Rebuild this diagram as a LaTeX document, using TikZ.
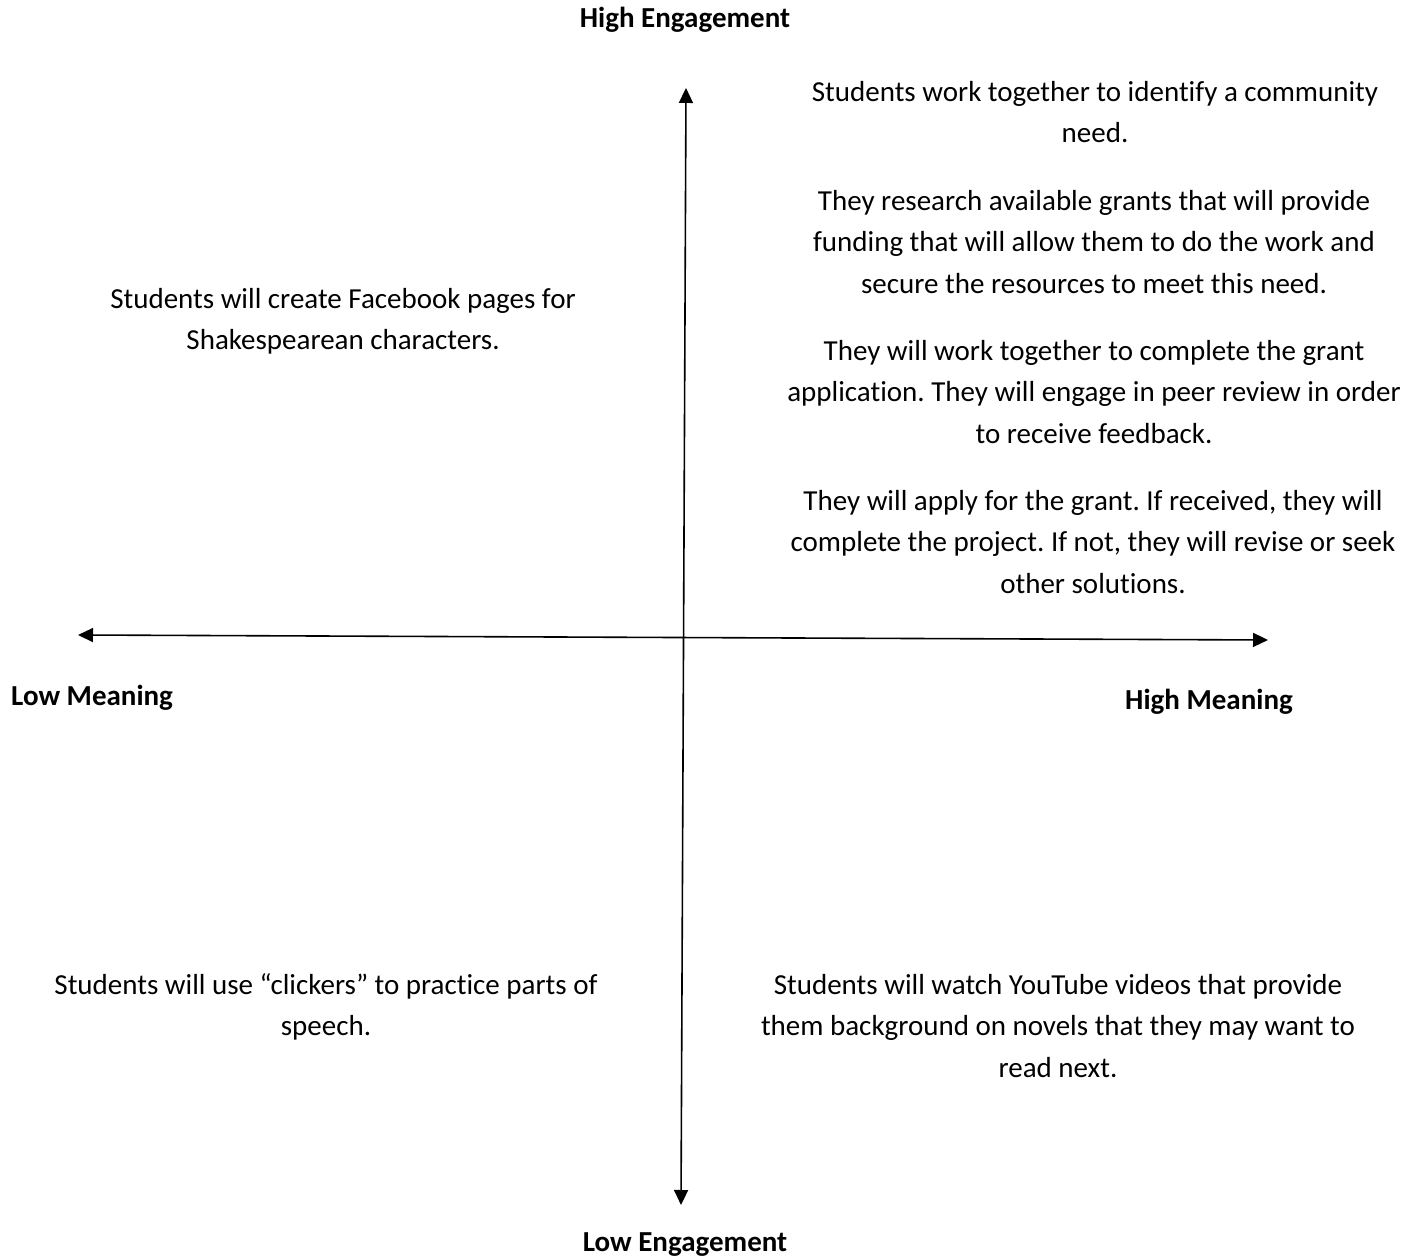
\documentclass[tikz,border=0pt]{standalone}
\usepackage{fontspec}
\setmainfont{Carlito}[Ligatures={NoCommon}]
\usetikzlibrary{arrows.meta,positioning}
\frenchspacing

\tikzset{
  axis/.style={line width=1.6pt, {Triangle[length=15pt,width=14pt]}-{Triangle[length=15pt,width=14pt]}},
  note/.style={align=center, inner sep=0pt, font=\fontsize{29}{41.3}\selectfont},
  axislabel/.style={inner sep=0pt, font=\fontsize{29}{34}\selectfont\bfseries}
}

\begin{document}
\begin{tikzpicture}[x=1pt, y=1pt]
    \useasboundingbox (0,0) rectangle (1420,1258);

    % Axis ends
    \coordinate (top) at (686,1170);
    \coordinate (bottom) at (681,53);
    \coordinate (left) at (78,623);
    \coordinate (right) at (1268,618);

    % Axes
    \draw [axis] (bottom) -- (top);
    \draw [axis] (left) -- (right);

    % Axis labels
    \node (hieng) [axislabel] at (685,1238) {High Engagement};
    \node (loeng) [axislabel] at (685,13) {Low Engagement};
    \node (lomean) [axislabel, anchor=west] at (11,560) {Low Meaning};
    \node (himean) [axislabel] at (1209,556) {High Meaning};

    % Quadrant: high meaning, high engagement
    \node (q1a) [note] at (1095,1146) {Students work together to identify a community\\ need.};
    \node (q1b) [note] at (1094,1016) {They research available grants that will provide\\ funding that will allow them to do the work and\\ secure the resources to meet this need.};
    \node (q1c) [note] at (1094,866) {They will work together to complete the grant\\ application. They will engage in peer review in order\\ to receive feedback.};
    \node (q1d) [note] at (1093,716) {They will apply for the grant. If received, they will\\ complete the project. If not, they will revise or seek\\ other solutions.};

    % Quadrant: low meaning, high engagement
    \node (q2) [note] at (343,937) {Students will create Facebook pages for\\ Shakespearean characters.};

    % Quadrant: low meaning, low engagement
    \node (q3) [note] at (326,251) {Students will use ``clickers'' to practice parts of\\ speech.};

    % Quadrant: high meaning, low engagement
    \node (q4) [note] at (1058,232) {Students will watch YouTube videos that provide\\ them background on novels that they may want to\\ read next.};
\end{tikzpicture}
\end{document}
